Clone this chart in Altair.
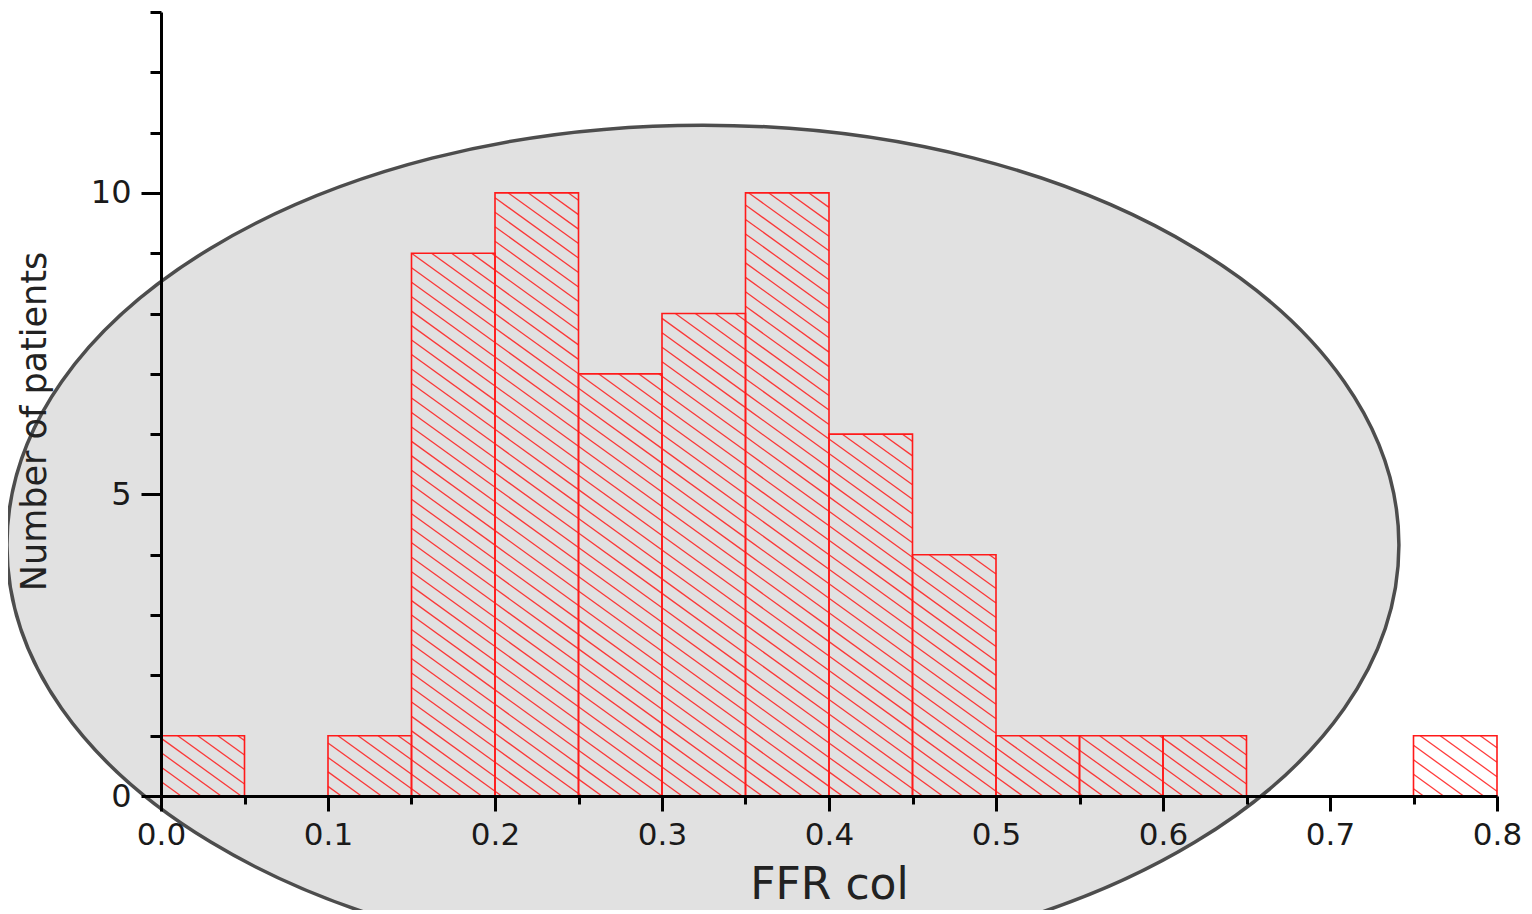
import math
import altair as alt
import pandas as pd

# ---- data ----
BIN_START = [0.00, 0.05, 0.10, 0.15, 0.20, 0.25, 0.30, 0.35,
             0.40, 0.45, 0.50, 0.55, 0.60, 0.65, 0.70, 0.75]
BIN_WIDTH = 0.05
COUNTS = [1, 0, 1, 9, 10, 7, 8, 10, 6, 4, 1, 1, 1, 0, 0, 1]

X_TICKS = [0.0, 0.05, 0.1, 0.15, 0.2, 0.25, 0.3, 0.35, 0.4,
           0.45, 0.5, 0.55, 0.6, 0.65, 0.7, 0.75, 0.8]
Y_TICKS = [0, 1, 2, 3, 4, 5, 6, 7, 8, 9, 10, 11, 12, 13]
X_DOMAIN = [0, 0.8]
Y_DOMAIN = [0, 13]

X_TITLE = "FFR col"
Y_TITLE = "Number of patients"

# decorative ellipse behind the bars (center in data units)
ELLIPSE_CENTER_X = [0.3245]
ELLIPSE_CENTER_Y = [4.16]
ELLIPSE_RATIO = 0.6034          # minor / major axis
ELLIPSE_WIDTH_PX = 1392

# hatch style (spacing along x in data units, slope in counts per x-unit)
HATCH_DX = 0.012
HATCH_SLOPE = 20.0

# ---- tables built from the arrays ----
bars = pd.DataFrame({
    "start": BIN_START,
    "end": [s + BIN_WIDTH for s in BIN_START],
    "count": COUNTS,
})
bars = bars[bars["count"] > 0]
bars["base"] = 0

segs = []
m = HATCH_SLOPE
step = m * HATCH_DX
for _, r in bars.iterrows():
    x0, x1, c = r["start"], r["end"], r["count"]
    j0 = int(math.floor(m * x0 / step)) - 1
    j1 = int(math.ceil((m * x1 + c) / step)) + 1
    for j in range(j0, j1 + 1):
        b = j * step
        lo = max(x0, (b - c) / m)
        hi = min(x1, b / m)
        if hi - lo > 1e-9:
            segs.append({"xa": lo, "ya": b - m * lo, "xb": hi, "yb": b - m * hi})
hatch = pd.DataFrame(segs)

ellipse = pd.DataFrame({"cx": ELLIPSE_CENTER_X, "cy": ELLIPSE_CENTER_Y})

FONT = "DejaVu Sans"
MAJOR_X = "abs(round(datum.value*10) - datum.value*10) < 0.001"
MAJOR_Y = "datum.value % 5 === 0"

x_scale = alt.Scale(domain=X_DOMAIN, nice=False, zero=False)
y_scale = alt.Scale(domain=Y_DOMAIN, nice=False)

x_axis = alt.Axis(
    values=X_TICKS,
    labelExpr=f"{MAJOR_X} ? format(datum.value, '.1f') : ''",
    tickSize={"condition": {"test": MAJOR_X, "value": 15}, "value": 8},
    tickWidth=3, tickColor="black",
    domainWidth=3, domainColor="black",
    labelFont=FONT, labelFontSize=31, labelColor="#1a1a1a",
    labelPadding=9, labelFlush=False, labelOverlap=False,
    grid=False,
    title=X_TITLE, titleFont=FONT, titleFontSize=44,
    titleFontWeight="normal", titleColor="#222222",
    titleBaseline="alphabetic", titleY=102,
    zindex=1,
)
y_axis = alt.Axis(
    values=Y_TICKS,
    labelExpr=f"{MAJOR_Y} ? datum.label : ''",
    tickSize={"condition": {"test": MAJOR_Y, "value": 20}, "value": 11},
    tickWidth=3, tickColor="black",
    domainWidth=3, domainColor="black",
    labelFont=FONT, labelFontSize=32, labelColor="#1a1a1a",
    labelPadding=10, labelFlush=False, labelOverlap=False,
    grid=False,
    title=Y_TITLE, titleFont=FONT, titleFontSize=35,
    titleFontWeight="normal", titleColor="#222222",
    titleAngle=270, titleAlign="center", titleBaseline="alphabetic",
    titleX=-116, titleY=409,
    zindex=1,
)

r = ELLIPSE_RATIO
ellipse_path = f"M-1,0A1,{r},0,1,1,1,0A1,{r},0,1,1,-1,0Z"

ell = alt.Chart(ellipse).mark_point(
    shape=ellipse_path, size=ELLIPSE_WIDTH_PX ** 2, filled=True,
    fill="#e1e1e1", stroke="#4d4d4d", strokeWidth=3.5, opacity=1,
).encode(
    x=alt.X("cx:Q", scale=x_scale, axis=x_axis),
    y=alt.Y("cy:Q", scale=y_scale, axis=y_axis),
)

bar = alt.Chart(bars).mark_bar(
    fill="transparent", stroke="#ff1a1a", strokeWidth=1.6,
).encode(
    x=alt.X("start:Q", scale=x_scale, axis=x_axis),
    x2="end:Q",
    y=alt.Y("count:Q", scale=y_scale, axis=y_axis),
    y2="base:Q",
)

hat = alt.Chart(hatch).mark_rule(
    color="#ff1a1a", strokeWidth=1.3, opacity=0.85,
).encode(
    x=alt.X("xa:Q", scale=x_scale, axis=x_axis),
    y=alt.Y("ya:Q", scale=y_scale, axis=y_axis),
    x2="xb:Q",
    y2="yb:Q",
)

chart = alt.layer(ell, hat, bar).properties(
    width=1336, height=784,
    padding={"left": 153, "top": 4, "right": 27, "bottom": 114},
    autosize=alt.AutoSizeParams(type="none"),
    background="white",
).configure_view(stroke=None)

chart.save("out.html", embed_options={"renderer": "svg", "actions": False})
